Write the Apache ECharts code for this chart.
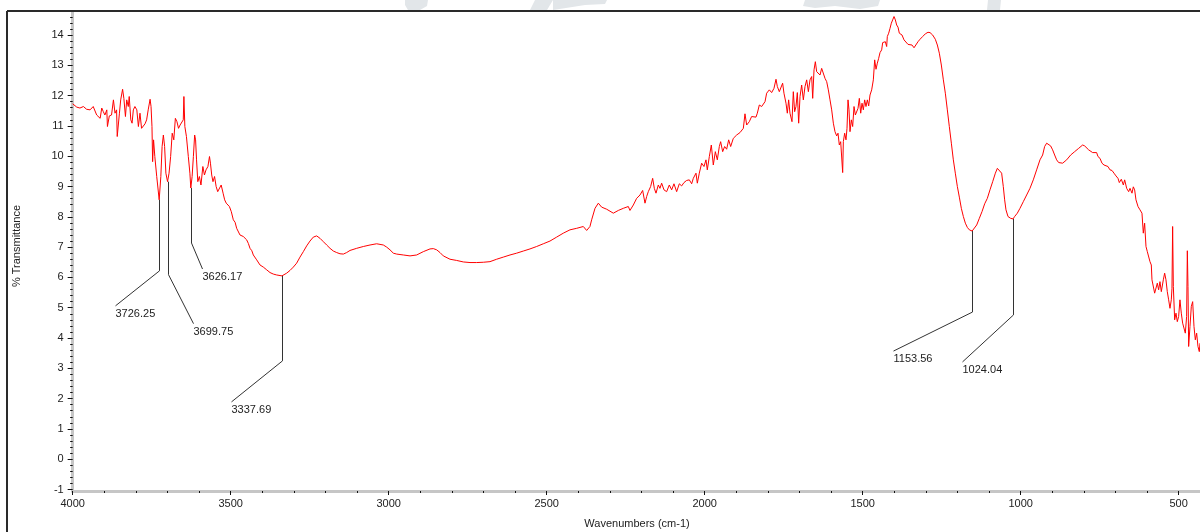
<!DOCTYPE html>
<html>
<head>
<meta charset="utf-8">
<title>FTIR spectrum</title>
<script src="https://cdn.jsdelivr.net/npm/echarts@6/dist/echarts.min.js"></script>
<style>
  html, body { margin: 0; padding: 0; background: #ffffff; }
  #chart { width: 1200px; height: 532px; }
</style>
</head>
<body>
<div id="chart"></div>
<script>
// Spectrum, as [wavenumber (cm-1), % transmittance] pairs, split by region.
const segOH = [
  [4000,11.73],[3987,11.62],[3977,11.59],[3966,11.64],[3956,11.55],[3945,11.53],[3935,11.64],[3929,11.59],
  [3924,11.36],[3913,11.25],[3908,11.59],[3903,11.47],[3898,11.36],[3892,11.53],[3890,10.98],[3884,11.33],
  [3877,11.36],[3871,11.86],[3866,11.42],[3861,11.53],[3859,10.65],[3852,11.42],[3848,11.86],[3842,12.21],
  [3838,11.91],[3833,11.31],[3829,11.86],[3824,11.64],[3821,11.97],[3816,11.20],[3812,11.09],[3808,11.53],
  [3803,11.64],[3797,11.53],[3792,10.98],[3787,11.42],[3782,10.92],[3776,10.87],[3771,11.07],[3766,11.20],
  [3761,11.53],[3755,11.88],[3752,11.64],[3749,10.98],[3747,9.82],[3744,10.54],[3740,9.99],[3734,9.33],
  [3726.25,8.56],[3721,9.33],[3717,10.32],[3713,10.70],[3709,10.32],[3705,9.44],[3699.75,9.16],[3695,9.44],
  [3690,9.99],[3685,10.76],[3680,10.54],[3675,11.25],[3670,11.14],[3665,10.92],[3660,11.03],[3655,11.09],
  [3650,11.20],[3648,11.97],[3645,10.98],[3640,10.65],[3634,9.99],[3629,9.44],[3626.17,8.95],[3622,9.33],
  [3618,9.99],[3614,10.70],[3611,10.54],[3608,9.88],[3604,9.16],[3599,9.33],[3594,9.05],[3588,9.66],
  [3583,9.38],[3578,9.55],[3572,9.66],[3567,9.99],[3564,9.77],[3560,9.38],[3556,9.16],[3551,9.33],
  [3546,9.00],[3541,8.83],[3535,8.89],[3530,9.05],[3524,8.78],[3519,8.56],[3514,8.45],[3509,8.50],
  [3504,8.34],[3498,8.17]
];

const segCH = [
  [3491.6,7.90],[3486,7.82],[3481,7.62],[3476,7.58],[3470.5,7.40],[3465,7.44],[3460,7.35],[3454,7.30],
  [3449.4,7.24],[3444,7.12],[3438.8,6.96],[3433,6.88],[3428.3,6.74],[3422,6.70],[3417.7,6.58],[3412,6.52],
  [3407.2,6.41],[3401,6.39],[3396.6,6.34],[3386,6.25],[3375.5,6.16],[3365,6.11],[3354.4,6.08],[3337.69,6.05],
  [3333.3,6.08],[3322.8,6.14],[3312.2,6.23],[3301.7,6.34],[3291.2,6.47],[3280.6,6.67],[3270,6.85],[3259.5,7.04],
  [3249,7.20],[3238.4,7.33],[3227.8,7.37],[3217.3,7.29],[3206.8,7.18],[3196.2,7.07],[3185.6,6.96],[3175.1,6.87],
  [3164.5,6.82],[3154,6.78],[3143.4,6.77],[3132.9,6.82],[3122.3,6.89],[3101.2,6.96],[3080.2,7.02],[3059,7.07],
  [3038,7.11],[3016.9,7.07],[3006.3,7.00],[2995.8,6.91],[2985.2,6.80],[2974.7,6.77],[2953.6,6.74],[2932.4,6.71],
  [2911.4,6.74],[2890.3,6.85],[2869.2,6.94],[2858.6,6.95],[2848,6.91],[2837.5,6.82],[2827,6.71],[2805.9,6.60],
  [2784.8,6.56],[2763.7,6.51],[2742.6,6.49],[2721.5,6.49],[2700.4,6.50],[2679.3,6.52],[2658.2,6.60],[2637.2,6.67],
  [2616,6.74],[2594.9,6.80],[2573.9,6.87],[2552.8,6.94],[2531.7,7.02],[2510.6,7.11],[2489.5,7.20],[2468.4,7.33],
  [2447.3,7.46],[2426.2,7.57],[2405.1,7.62],[2384,7.68],[2373.4,7.55],[2363,7.68]
];

const segMid = [
  [2357.6,7.90],[2347,8.28],[2336.5,8.45],[2326,8.32],[2310,8.25],[2289,8.12],[2273.2,8.21],[2257.4,8.28],
  [2241.6,8.34],[2236.3,8.21],[2225.7,8.39],[2215.2,8.61],[2204.6,8.72],[2196.2,8.87],[2188.8,8.45],[2183.5,8.67],
  [2178.3,8.83],[2170.9,9.00],[2164.5,9.27],[2159.3,8.94],[2154,8.78],[2146.6,9.05],[2141.4,8.94],[2136.1,9.11],
  [2128.7,8.89],[2120.3,8.83],[2111.8,9.05],[2104.4,8.89],[2097.1,9.09],[2088.6,8.83],[2080.2,9.09],[2072.8,9.02],
  [2065.4,9.13],[2057,9.20],[2048.5,9.22],[2041.1,9.09],[2035.9,9.27],[2027.4,9.44],[2023.2,9.11],[2016.9,9.44],
  [2009.5,9.77],[2002.1,9.66],[1995.8,9.88],[1991.6,9.55],[1985.2,9.99],[1978.9,10.37],[1972.6,9.71],[1966.2,10.15],
  [1959.9,9.88],[1953.6,10.32],[1949.4,10.48],[1943,10.15],[1936.7,10.32],[1930.4,10.23],[1924,10.54],[1917.7,10.32],
  [1909.3,10.59],[1898.7,10.70],[1888.2,10.78],[1877.6,10.92],[1872.4,11.40],[1867,11.03],[1858.7,11.14],[1851.3,11.31],
  [1846,11.36],[1837.6,11.29],[1833.3,11.42],[1827,11.69],[1819.6,11.64],[1809,11.80],[1803.8,12.08],[1795.3,12.19],
  [1788,12.10],[1780.6,12.24],[1774.2,12.54],[1770,12.30],[1763.7,12.13],[1759.5,12.08],[1753.2,12.41],[1749,12.08],
  [1742.6,11.75],[1738.4,11.42],[1734.2,11.86],[1730,11.42],[1723.6,11.14],[1719.4,12.13],[1715.2,11.47],[1711,11.64],
  [1706.7,12.10],[1702.5,11.09]
];

const segFinger = [
  [1698.2,11.97],[1693,12.35],[1687.7,11.86],[1682.4,12.30],[1677.1,12.52],[1671.8,12.13],[1666.6,12.52],[1661.3,12.63],
  [1658.1,11.91],[1653.9,12.85],[1649.7,13.12],[1645.5,12.79],[1640.2,12.85],[1634.9,12.68],[1629.7,12.90],[1624.4,12.85],
  [1619.1,12.57],[1613.8,12.46],[1608.6,12.19],[1603.3,11.86],[1598,11.53],[1592.7,11.09],[1587.5,10.81],[1582.2,10.67],
  [1578,10.76],[1573.8,10.37],[1569.5,10.48],[1565.3,10.43],[1563.2,9.46],[1561.1,10.48],[1556.9,10.76],[1552.7,10.54],
  [1549.5,10.92],[1546.3,11.86],[1543.2,11.53],[1540,10.81],[1535.8,11.20],[1531.6,10.98],[1527.3,11.64],[1523.1,11.36],
  [1518.9,11.31],[1514.7,11.58],[1510.5,11.91],[1506.2,11.42],[1502,11.75],[1497.8,11.53],[1493.6,11.86],[1489.4,11.64],
  [1485.1,11.86],[1480.9,11.66],[1476.7,12.02],[1471.4,12.19],[1466.2,12.52],[1461.9,13.18],[1457.7,12.87],[1453.5,13.07],
  [1449.3,13.23],[1445,13.42],[1439.8,13.51],[1436.6,13.75],[1432.4,13.73],[1428.2,13.78],[1424,13.62],[1421.9,13.95],
  [1417.6,14.06],[1413.4,14.22],[1409.2,14.39],[1405,14.50],[1400.7,14.61],[1396.5,14.50],[1392.3,14.33],[1388.1,14.26],
  [1383.9,14.06],[1379.7,14.11],[1375.4,14.00],[1369.1,13.84],[1362.8,13.78],[1356.4,13.69],[1350.1,13.64],[1343.8,13.67],
  [1337.4,13.58],[1331.1,13.64],[1324.8,13.78],[1318.5,13.86],[1310,13.95],[1301.6,14.04],[1293.2,14.09],[1286.8,14.08],
  [1278.4,14.00],[1270,13.86],[1263.6,13.67],[1257.3,13.40],[1251,13.01],[1244.6,12.52],[1238.3,12.08],[1232,11.53],
  [1225.7,10.98],[1219.3,10.43],[1213,9.88],[1206.7,9.44],[1200.3,9.00],[1194,8.65],[1187.7,8.28],[1181.3,8.01],
  [1175,7.79],[1168.7,7.65],[1162.3,7.57],[1153.56,7.53],[1147.6,7.59],[1139.1,7.73],[1130.7,7.95],[1122.3,8.17],
  [1113.8,8.43],[1105.4,8.61],[1097,8.89],[1088.5,9.16],[1080,9.44],[1073.7,9.60],[1067.4,9.66]
];

const segLow = [
  [1060.1,9.44],[1054.9,9.00],[1050.6,8.56],[1046.4,8.23],[1040.1,8.01],[1031.6,7.95],[1024.04,7.93],[1019,8.01],
  [1010.5,8.12],[1002.1,8.28],[991.6,8.50],[981,8.72],[970.5,8.94],[960,9.22],[949.4,9.55],[938.8,9.88],
  [930.4,10.04],[924.1,10.32],[917.7,10.43],[911.4,10.45],[905.1,10.34],[898.8,10.21],[892.4,10.04],[886.1,9.88],
  [879.7,9.79],[873.4,9.75],[867.1,9.77],[860.8,9.75],[854.4,9.88],[848.1,9.93],[841.7,10.04],[835.4,10.08],
  [829.1,10.15],[822.8,10.21],[816.4,10.26],[810.1,10.32],[803.8,10.37],[797.4,10.34],[791.1,10.30],[784.8,10.21],
  [778.5,10.19],[772.1,10.12],[765.8,10.15],[759.5,10.12],[755.3,9.99],[748.9,9.93],[742.6,9.77],[736.2,9.71],
  [729.9,9.77],[723.6,9.66],[717.3,9.55],[710.9,9.53],[704.6,9.44],[698.3,9.35],[691.9,9.27],[687.7,9.13],
  [681.4,9.24],[675,9.05],[670.8,9.22],[664.5,8.94],[658.2,8.83],[653.9,8.94],[647.6,8.78],[643.4,8.99],
  [639.2,8.89],[635,8.56],[628.6,8.34],[622.3,8.23],[616,8.12],[611.8,7.46],[607.6,7.79],[603.3,7.02],
  [599.1,6.85],[594.9,6.91],[590.7,6.52],[586.5,6.41],[584.4,5.92],[580.1,5.86],[575.9,5.48],[571.7,5.53],
  [567.5,5.81],[563.3,5.59],[559.1,5.86],[554.8,5.53],[548.5,5.92],[544.3,6.14],[540.1,5.92],[535.9,5.53],
  [531.6,5.26],[527.4,4.98],[523.2,5.26],[521.1,5.64],[519,7.68],[516.8,5.70],[512.6,4.60],[508.4,4.82],
  [504.2,4.54],[500,4.71],[495.8,5.26],[491.6,4.82],[487.3,4.49],[483.1,4.54],[478.9,4.16],[474.7,4.71],
  [472.5,6.88],[470.4,5.70],[468.3,3.72],[464.1,4.38],[459.9,5.04],[455.6,5.20],[451.4,4.38],[447.2,3.94],
  [443,4.16],[438.8,3.72],[434.6,3.55],[432.4,3.83]
];

// Labelled band minima (wavenumber, transmittance at the minimum).
const peakWn = [3726.25, 3699.75, 3626.17, 3337.69, 1153.56, 1024.04];
const peakT  = [8.56, 9.16, 8.95, 6.05, 7.53, 7.93];

// Tick labels.
const xTicks = [4000, 3500, 3000, 2500, 2000, 1500, 1000, 500];
const yTicks = [-1, 0, 1, 2, 3, 4, 5, 6, 7, 8, 9, 10, 11, 12, 13, 14];

// Axis ranges.
const X_MIN = 432.4, X_MAX = 4000;
const Y_MIN = -1.05, Y_MAX = 14.76;

// Leader-line geometry in pixels: drop below the band, then a slanted run to the label.
const leaderLayout = [
  { drop: 71, dx: -44, dy: 35 },
  { drop: 93, dx: 25,  dy: 49 },
  { drop: 55, dx: 11,  dy: 26 },
  { drop: 85, dx: -51, dy: 41 },
  { drop: 81, dx: -79, dy: 39 },
  { drop: 96, dx: -51, dy: 47 }
];

const FONT = '"Liberation Sans", Arial, sans-serif';
const TEXT_COLOR = '#222222';

const spectrum = [].concat(segOH, segCH, segMid, segFinger, segLow);

// Minor tick positions (every 100 cm-1 and every 0.2 %T), skipping the major ones.
const xMinor = [];
for (let v = 3900; v >= 500; v -= 100) if (v % 500 !== 0) xMinor.push(v);
const yMinor = [];
for (let k = -4; k <= 73; k++) if (k % 5 !== 0) yMinor.push(k / 5);

const peakData = peakWn.map((w, i) => [w, peakT[i]]);

const chart = echarts.init(document.getElementById('chart'), null, { renderer: 'canvas' });

const grid = { left: 72.67, right: 0, top: 12, bottom: 41, containLabel: false };

const baseX = { type: 'value', min: X_MIN, max: X_MAX, inverse: true, gridIndex: 0, splitLine: { show: false } };
const baseY = { type: 'value', min: Y_MIN, max: Y_MAX, gridIndex: 0, splitLine: { show: false } };
const plain = (v) => String(Math.round(v));

chart.setOption({
  animation: false,
  backgroundColor: '#ffffff',
  grid: grid,
  xAxis: [
    Object.assign({}, baseX, {
      position: 'bottom',
      axisLine: { show: true, onZero: false, lineStyle: { color: '#c6c6c6', width: 3 } },
      axisTick: { show: true, customValues: xTicks, length: 4, lineStyle: { color: '#111111', width: 1 } },
      axisLabel: { show: true, customValues: xTicks, formatter: plain, margin: 7, fontSize: 11, fontFamily: FONT, color: TEXT_COLOR }
    }),
    Object.assign({}, baseX, {
      position: 'bottom',
      axisLine: { show: false, onZero: false },
      axisTick: { show: true, customValues: xMinor, length: 2, lineStyle: { color: '#111111', width: 1 } },
      axisLabel: { show: false }
    })
  ],
  yAxis: [
    Object.assign({}, baseY, {
      position: 'left',
      axisLine: { show: true, onZero: false, lineStyle: { color: '#c6c6c6', width: 3 } },
      axisTick: { show: true, customValues: yTicks, length: 5, lineStyle: { color: '#111111', width: 1 } },
      axisLabel: { show: true, customValues: yTicks, formatter: plain, margin: 9, fontSize: 11, fontFamily: FONT, color: TEXT_COLOR }
    }),
    Object.assign({}, baseY, {
      position: 'left',
      axisLine: { show: false, onZero: false },
      axisTick: { show: true, customValues: yMinor, length: 2.5, lineStyle: { color: '#111111', width: 1 } },
      axisLabel: { show: false }
    })
  ],
  graphic: [
    // faint lettering behind the top edge
    { type: 'polygon', silent: true, z: 0, shape: { points: [[405,0],[428,0],[427,6],[420,10],[408,10],[405,5]] }, style: { fill: '#e2e6e9' } },
    { type: 'polygon', silent: true, z: 0, shape: { points: [[535,0],[553,0],[547,10],[530,10]] }, style: { fill: '#e2e6e9' } },
    { type: 'polygon', silent: true, z: 0, shape: { points: [[553,0],[607,0],[605,4],[585,5],[566,8],[553,10]] }, style: { fill: '#e2e6e9' } },
    { type: 'polygon', silent: true, z: 0, shape: { points: [[805,0],[880,0],[878,6],[860,9],[835,6],[815,8],[803,6]] }, style: { fill: '#e2e6e9' } },
    { type: 'polygon', silent: true, z: 0, shape: { points: [[988,0],[1001,0],[1000,10],[987,10]] }, style: { fill: '#e2e6e9' } },
    // frame
    { type: 'line', silent: true, z: 10, shape: { x1: 7, y1: 11, x2: 1200, y2: 11 }, style: { stroke: '#2a2a2a', lineWidth: 2 } },
    { type: 'line', silent: true, z: 10, shape: { x1: 7, y1: 11, x2: 7, y2: 532 }, style: { stroke: '#2a2a2a', lineWidth: 2 } },
    // axis titles
    { type: 'text', silent: true, x: 17, y: 246, rotation: Math.PI / 2,
      style: { text: '% Transmittance', font: '11px ' + FONT, fill: TEXT_COLOR, align: 'center', verticalAlign: 'middle' } },
    { type: 'text', silent: true, x: 637, y: 524,
      style: { text: 'Wavenumbers (cm-1)', font: '11px ' + FONT, fill: TEXT_COLOR, align: 'center', verticalAlign: 'middle' } }
  ],
  series: [
    {
      type: 'line',
      name: 'Spectrum',
      xAxisIndex: 0,
      yAxisIndex: 0,
      data: spectrum,
      showSymbol: false,
      symbol: 'none',
      smooth: false,
      clip: true,
      lineStyle: { color: '#ff0000', width: 1 },
      z: 3
    },
    {
      type: 'custom',
      name: 'Band labels',
      xAxisIndex: 0,
      yAxisIndex: 0,
      data: peakData,
      clip: false,
      z: 4,
      renderItem: function (params, api) {
        const i = params.dataIndex;
        const p = api.coord([api.value(0), api.value(1)]);
        const L = leaderLayout[i];
        const x0 = Math.round(p[0]) + 0.5;
        const y0 = p[1];
        const ey = y0 + L.drop;
        const tx = x0 + L.dx;
        const ty = ey + L.dy;
        return {
          type: 'group',
          children: [
            { type: 'polyline', shape: { points: [[x0, y0], [x0, ey], [tx, ty]] },
              style: { stroke: '#333333', lineWidth: 1, fill: null } },
            { type: 'text', x: tx, y: ty + 8,
              style: { text: peakWn[i].toFixed(2), font: '11px ' + FONT, fill: TEXT_COLOR, align: 'left', verticalAlign: 'middle' } }
          ]
        };
      }
    }
  ]
});
</script>
</body>
</html>
